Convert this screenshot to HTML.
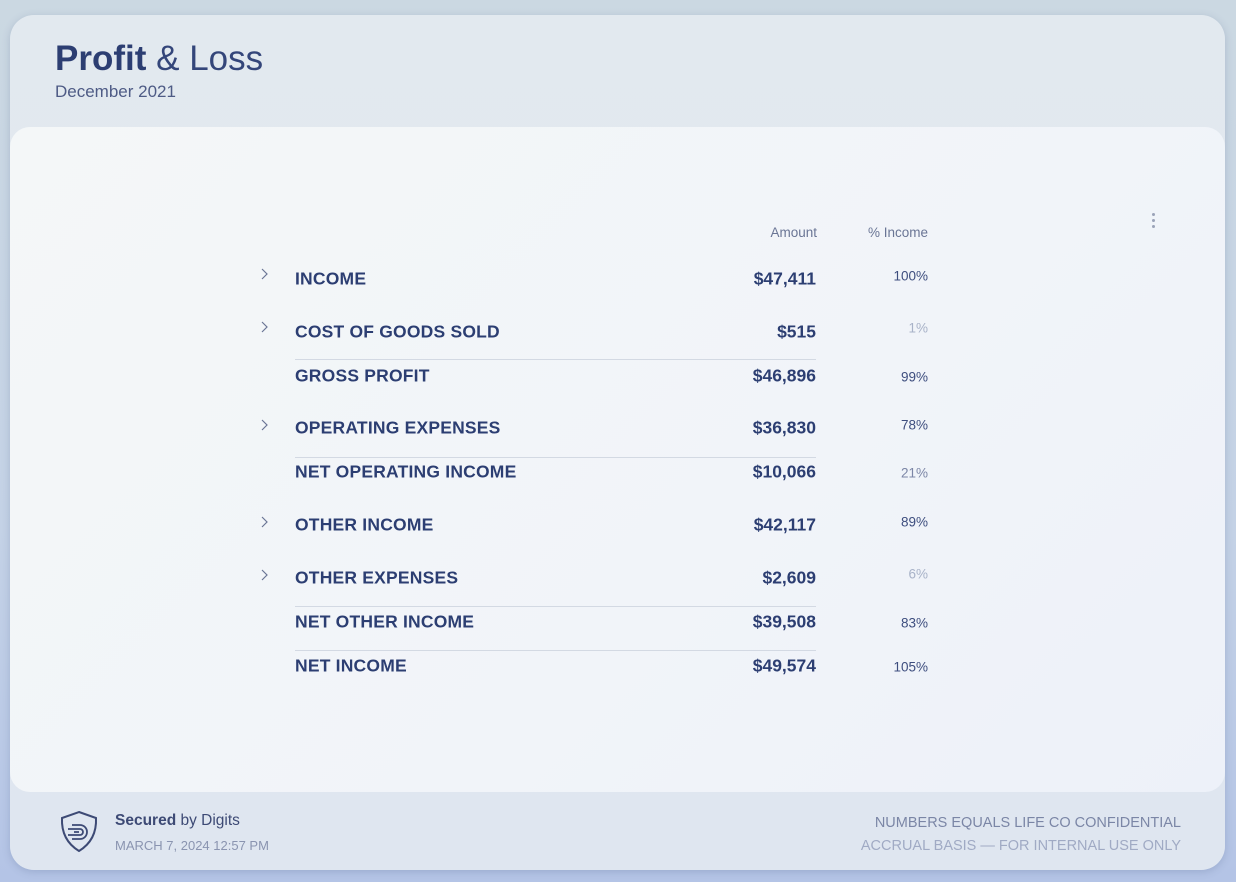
<!DOCTYPE html>
<html><head><style>
body{margin:0;width:1236px;height:882px;overflow:hidden;background:linear-gradient(180deg,#cbd8e2 0%,#c4d2e6 60%,#b4c4e6 100%);font-family:"Liberation Sans",sans-serif;color:#2c3e72;position:relative}
.card{position:absolute;left:10px;top:15px;width:1215px;height:855px;border-radius:24px;background:linear-gradient(180deg,#e2e9ef 0%,#dfe6f0 100%);box-shadow:0 2px 8px rgba(80,100,140,.25)}
.panel{position:absolute;left:10px;top:127px;width:1215px;height:665px;border-radius:20px;background:linear-gradient(135deg,#f4f7f8 0%,#f1f4f9 60%,#edf1f9 100%)}
.t{position:absolute;white-space:nowrap}
.lab{left:295px;font-size:17.5px;font-weight:bold;letter-spacing:.2px;transform:translateY(-50%)}
.amt{right:420px;font-size:17.5px;font-weight:bold;transform:translateY(-50%)}
.pct{right:308px;font-size:13.5px;transform:translateY(-50%);color:#3d4d7e}
.lt{color:#a8b2c8}
.chev{position:absolute;left:261px;width:8px;height:12px}
.ln{position:absolute;left:295px;width:521px;height:1px;background:#d3d9e3}
</style></head><body>
<div class="card"></div>
<div class="panel"></div>
<div class="t" style="left:55px;top:39px;font-size:35px;"><b>Profit</b> <span style="color:#34467a">&amp; Loss</span></div>
<div class="t" style="left:55px;top:82px;font-size:17px;color:#4e5b85">December 2021</div>
<div class="t" style="right:419px;top:225px;font-size:13.5px;color:#6a7595">Amount</div>
<div class="t" style="right:308px;top:225px;font-size:13.5px;color:#6a7595">% Income</div>
<div class="t" style="left:1152px;top:213px;width:4px;">
<div style="width:3px;height:3px;border-radius:50%;background:#9aa3b8;margin-bottom:3px"></div>
<div style="width:3px;height:3px;border-radius:50%;background:#9aa3b8;margin-bottom:3px"></div>
<div style="width:3px;height:3px;border-radius:50%;background:#9aa3b8"></div></div>

<svg class="chev" style="top:268px" viewBox="0 0 8 12"><path d="M1 1 L6 6 L1 11" fill="none" stroke="#6a7595" stroke-width="1.2"/></svg>
<div class="t lab" style="top:279px">INCOME</div><div class="t amt" style="top:279px">$47,411</div><div class="t pct" style="top:276px">100%</div>

<svg class="chev" style="top:321px" viewBox="0 0 8 12"><path d="M1 1 L6 6 L1 11" fill="none" stroke="#6a7595" stroke-width="1.2"/></svg>
<div class="t lab" style="top:332px">COST OF GOODS SOLD</div><div class="t amt" style="top:332px">$515</div><div class="t pct lt" style="top:328px">1%</div>
<div class="ln" style="top:359px"></div>
<div class="t lab" style="top:376px">GROSS PROFIT</div><div class="t amt" style="top:376px">$46,896</div><div class="t pct" style="top:377px">99%</div>

<svg class="chev" style="top:419px" viewBox="0 0 8 12"><path d="M1 1 L6 6 L1 11" fill="none" stroke="#6a7595" stroke-width="1.2"/></svg>
<div class="t lab" style="top:428px">OPERATING EXPENSES</div><div class="t amt" style="top:428px">$36,830</div><div class="t pct" style="top:425px">78%</div>
<div class="ln" style="top:457px"></div>
<div class="t lab" style="top:472px">NET OPERATING INCOME</div><div class="t amt" style="top:472px">$10,066</div><div class="t pct" style="top:473px;color:#7b86a6">21%</div>

<svg class="chev" style="top:516px" viewBox="0 0 8 12"><path d="M1 1 L6 6 L1 11" fill="none" stroke="#6a7595" stroke-width="1.2"/></svg>
<div class="t lab" style="top:525px">OTHER INCOME</div><div class="t amt" style="top:525px">$42,117</div><div class="t pct" style="top:522px">89%</div>

<svg class="chev" style="top:569px" viewBox="0 0 8 12"><path d="M1 1 L6 6 L1 11" fill="none" stroke="#6a7595" stroke-width="1.2"/></svg>
<div class="t lab" style="top:578px">OTHER EXPENSES</div><div class="t amt" style="top:578px">$2,609</div><div class="t pct lt" style="top:574px">6%</div>
<div class="ln" style="top:606px"></div>
<div class="t lab" style="top:622px">NET OTHER INCOME</div><div class="t amt" style="top:622px">$39,508</div><div class="t pct" style="top:623px">83%</div>
<div class="ln" style="top:650px"></div>
<div class="t lab" style="top:666px">NET INCOME</div><div class="t amt" style="top:666px">$49,574</div><div class="t pct" style="top:667px">105%</div>

<svg class="t" style="left:59px;top:810px" width="40" height="44" viewBox="0 0 40 44">
<path d="M20 2 L37 8 Q38 30 20 41 Q2 30 3 8 Z" fill="none" stroke="#3d4a75" stroke-width="2"/>
<path d="M13 15 h8 a7 7 0 0 1 0 14 h-8 M9 19 h12 a3 3 0 0 1 0 6 h-12 M15 22 h5" fill="none" stroke="#3d4a75" stroke-width="1.8"/>
</svg>
<div class="t" style="left:115px;top:812px;font-size:15.5px;color:#3d4a75"><b>Secured</b> by Digits</div>
<div class="t" style="left:115px;top:838px;font-size:13px;color:#8a94b0">MARCH 7, 2024 12:57 PM</div>
<div class="t" style="right:55px;top:815px;font-size:14.5px;color:#7b86a6">NUMBERS EQUALS LIFE CO CONFIDENTIAL</div>
<div class="t" style="right:55px;top:838px;font-size:14.5px;color:#a0aac4">ACCRUAL BASIS — FOR INTERNAL USE ONLY</div>
</body></html>
